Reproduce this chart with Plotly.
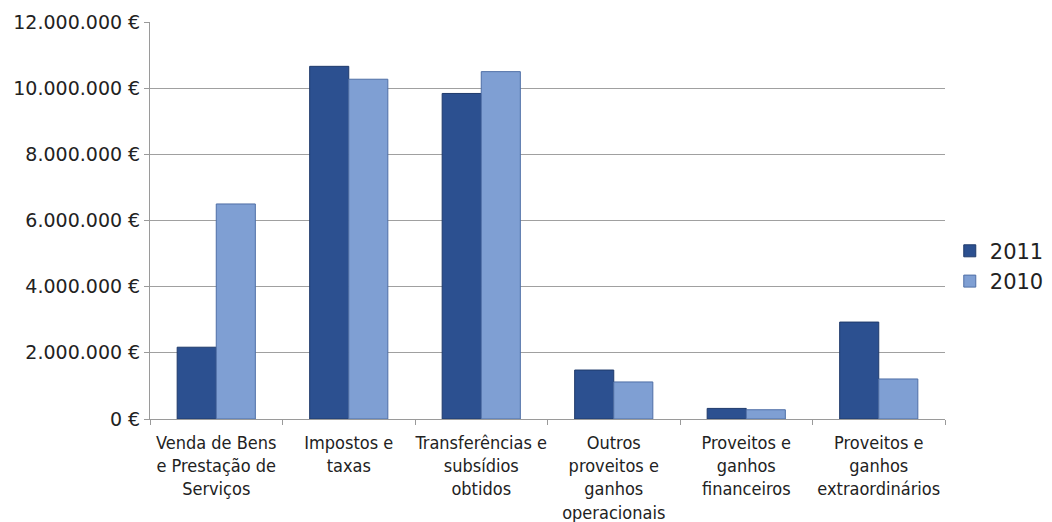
import plotly.graph_objects as go

categories = [
    "Venda de Bens<br>e Prestação de<br>Serviços",
    "Impostos e<br>taxas",
    "Transferências e<br>subsídios<br>obtidos",
    "Outros<br>proveitos e<br>ganhos<br>operacionais",
    "Proveitos e<br>ganhos<br>financeiros",
    "Proveitos e<br>ganhos<br>extraordinários",
]
values_2011 = [2170000, 10660000, 9840000, 1480000, 320000, 2930000]
values_2010 = [6500000, 10270000, 10500000, 1120000, 280000, 1210000]
tick_vals = [0, 2000000, 4000000, 6000000, 8000000, 10000000, 12000000]
tick_text = ["0 €", "2.000.000 €", "4.000.000 €", "6.000.000 €", "8.000.000 €", "10.000.000 €", "12.000.000 €"]

fig = go.Figure()
fig.add_trace(go.Bar(x=categories, y=values_2011, name="2011",
                     marker=dict(color="#2c5090", line=dict(color="#1f3a6b", width=1))))
fig.add_trace(go.Bar(x=categories, y=values_2010, name="2010",
                     marker=dict(color="#7f9fd3", line=dict(color="#4f6fa6", width=1))))

fig.update_layout(
    width=1052, height=522,
    margin=dict(l=150, r=107, t=22, b=103, autoexpand=False),
    paper_bgcolor="white", plot_bgcolor="white",
    barmode="group", bargap=0.41, bargroupgap=0,
    font=dict(family="DejaVu Sans, sans-serif", color="#222222"),
    legend=dict(x=1.006, y=0.385, yanchor="middle", xanchor="left",
                font=dict(size=21), itemwidth=30, tracegroupgap=0,
                bgcolor="rgba(0,0,0,0)"),
    xaxis=dict(showline=True, linecolor="#9a9a9a", linewidth=1,
               ticks="outside", tickson="boundaries", ticklen=5, tickcolor="#9a9a9a",
               tickfont=dict(size=18, family="DejaVu Sans Condensed, Liberation Sans Narrow, DejaVu Sans"),
               tickangle=0, ticklabelstandoff=7),
    yaxis=dict(range=[0, 12000000], tickvals=tick_vals, ticktext=tick_text,
               showgrid=True, gridcolor="#a0a0a0", gridwidth=1,
               showline=True, linecolor="#9a9a9a", linewidth=1,
               ticks="outside", ticklen=5, tickcolor="#9a9a9a",
               tickfont=dict(size=19), zeroline=False),
)

fig.write_html("out.html")
